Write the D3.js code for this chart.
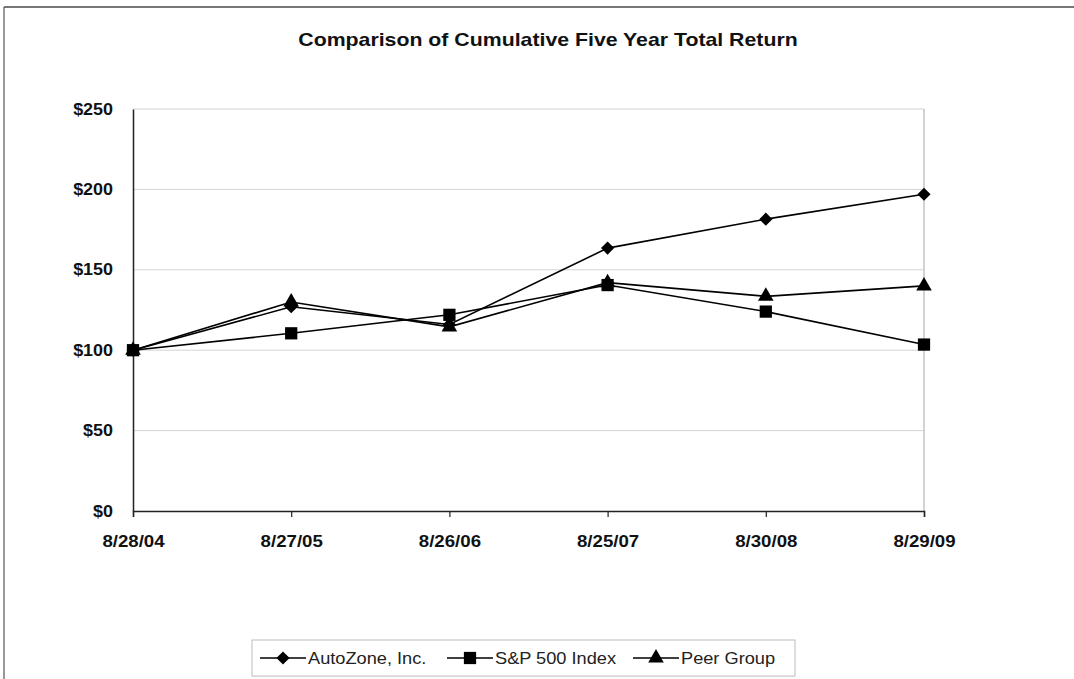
<!DOCTYPE html>
<html>
<head>
<meta charset="utf-8">
<script src="https://cdn.jsdelivr.net/npm/d3@7"></script>
<style>
  body { margin: 0; background: #fff; }
  svg { display: block; font-family: "Liberation Sans", Arial, sans-serif; }
</style>
</head>
<body>
<script>
// Data
let dates = ['8/28/04', '8/27/05', '8/26/06', '8/25/07', '8/30/08', '8/29/09'];
let autozone = [100, 127, 116, 163.5, 181.5, 197];
let sp500 = [100, 110.5, 122, 140.5, 124, 103.5];
let peer = [100, 130, 114.5, 142, 133.5, 140];
let yTicks = [0, 50, 100, 150, 200, 250];

let series = [
  { name: 'AutoZone, Inc.', values: autozone, symbol: d3.symbolDiamond2, size: 110 },
  { name: 'S&P 500 Index', values: sp500, symbol: d3.symbolSquare, size: 150 },
  { name: 'Peer Group', values: peer, symbol: d3.symbolTriangle, size: 105 }
];

let width = 1074, height = 679;
let margin = { top: 109, left: 133, right: 150, bottom: 168 };

let svg = d3.select('body').append('svg')
  .attr('width', width)
  .attr('height', height);

// widen text to the width seen in the original
function widen(sel, k) {
  sel.each(function() {
    let w = this.getComputedTextLength();
    d3.select(this).attr('textLength', w * k).attr('lengthAdjust', 'spacingAndGlyphs');
  });
}

// outer frame
svg.append('line').attr('x1', 4).attr('x2', width).attr('y1', 7).attr('y2', 7)
  .attr('stroke', '#777').attr('stroke-width', 2);
svg.append('line').attr('x1', 4).attr('x2', 4).attr('y1', 7).attr('y2', height)
  .attr('stroke', '#555').attr('stroke-width', 1.2);

let x = d3.scalePoint()
  .domain(dates)
  .range([margin.left, width - margin.right]);

let y = d3.scaleLinear()
  .domain([0, 250])
  .range([height - margin.bottom, margin.top]);

// title
svg.append('text')
  .attr('x', 548)
  .attr('y', 46)
  .attr('text-anchor', 'middle')
  .attr('font-size', '19px')
  .attr('font-weight', 'bold')
  .attr('fill', '#111')
  .text('Comparison of Cumulative Five Year Total Return')
  .call(widen, 1.12);

// gridlines
svg.append('g').selectAll('line')
  .data(yTicks.filter(d => d > 0))
  .enter().append('line')
  .attr('x1', margin.left).attr('x2', width - margin.right)
  .attr('y1', d => y(d)).attr('y2', d => y(d))
  .attr('stroke', '#d4d4d4').attr('stroke-width', 1);

// right border of plot
svg.append('line')
  .attr('x1', width - margin.right).attr('x2', width - margin.right)
  .attr('y1', y(250)).attr('y2', y(0))
  .attr('stroke', '#c4c4c4').attr('stroke-width', 1.5);

// y axis
let yAxis = svg.append('g')
  .attr('transform', `translate(${margin.left},0)`)
  .call(d3.axisLeft(y).tickValues(yTicks).tickSize(0).tickPadding(20).tickFormat(d => '$' + d));
yAxis.select('.domain').attr('stroke', '#222').attr('stroke-width', 1.5);
yAxis.selectAll('text').attr('font-size', '16px').attr('font-weight', 'bold')
  .attr('font-family', '"Liberation Sans", Arial, sans-serif').attr('fill', '#111')
  .call(widen, 1.12);

// x axis
let xAxis = svg.append('g')
  .attr('transform', `translate(0,${y(0)})`)
  .call(d3.axisBottom(x).tickSize(6).tickSizeOuter(6).tickPadding(18));
xAxis.select('.domain').attr('stroke', '#222').attr('stroke-width', 1.5);
xAxis.selectAll('.tick line').attr('stroke', '#222').attr('stroke-width', 1.2);
xAxis.selectAll('text').attr('font-size', '16.5px').attr('font-weight', 'bold')
  .attr('font-family', '"Liberation Sans", Arial, sans-serif').attr('fill', '#111')
  .call(widen, 1.13);

// lines and markers
let line = d3.line()
  .x((d, i) => x(dates[i]))
  .y(d => y(d));

series.forEach(s => {
  svg.append('path')
    .datum(s.values)
    .attr('d', line)
    .attr('fill', 'none')
    .attr('stroke', '#000')
    .attr('stroke-width', 1.6);
});

series.forEach(s => {
  svg.append('g').selectAll('path')
    .data(s.values)
    .enter().append('path')
    .attr('d', d3.symbol().type(s.symbol).size(s.size))
    .attr('transform', (d, i) => `translate(${x(dates[i])},${y(d)})`)
    .attr('fill', '#000');
});

// legend
let legend = svg.append('g');
legend.append('rect')
  .attr('x', 252).attr('y', 640).attr('width', 543).attr('height', 36)
  .attr('fill', '#fff').attr('stroke', '#bbb').attr('stroke-width', 1);

let legendX = [260, 447, 633];
series.forEach((s, i) => {
  let g = legend.append('g').attr('transform', `translate(${legendX[i]},658)`);
  g.append('line').attr('x1', 0).attr('x2', 46).attr('y1', 0).attr('y2', 0)
    .attr('stroke', '#000').attr('stroke-width', 1.6);
  g.append('path')
    .attr('d', d3.symbol().type(s.symbol).size(s.size))
    .attr('transform', 'translate(23,0)')
    .attr('fill', '#000');
  g.append('text')
    .attr('x', 48).attr('y', 6)
    .attr('font-size', '17px')
    .attr('fill', '#222')
    .text(s.name)
    .call(widen, 1.07);
});
</script>
</body>
</html>
